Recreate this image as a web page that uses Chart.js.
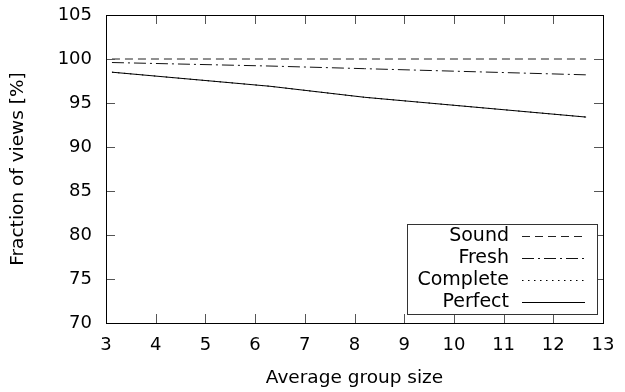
<!DOCTYPE html>
<html>
<head>
<meta charset="utf-8">
<script src="https://cdn.jsdelivr.net/npm/chart.js@4"></script>
<style>
  html, body { margin: 0; padding: 0; background: #fff; }
  #wrap { width: 625px; height: 392px; }
</style>
</head>
<body>
<div id="wrap"><canvas id="viewsChart" width="625" height="392"></canvas></div>
<script>
// group sizes (x) and fraction of views (%)
const groupSizes = [3.12, 6.3, 8.2, 12.66];
const soundValues = [100, 100, 100, 100];
const freshValues = [99.6, 99.2, 98.9, 98.2];
const completeValues = [98.5, 96.9, 95.65, 93.4];
const perfectValues = [98.5, 96.9, 95.65, 93.4];

const xTicks = [3, 4, 5, 6, 7, 8, 9, 10, 11, 12, 13];
const yTicks = [70, 75, 80, 85, 90, 95, 100, 105];

const FONT = "'DejaVu Sans', sans-serif";

function toPoints(values) {
    return values.map((v, i) => ({ x: groupSizes[i], y: v }));
}

// gnuplot style: ticks pointing inward on all four sides
const innerTicks = {
    id: 'innerTicks',
    afterDatasetsDraw(chart) {
        const { ctx, chartArea: a, scales } = chart;
        const len = 9;
        ctx.save();
        ctx.strokeStyle = '#555';
        ctx.lineWidth = 1;
        ctx.beginPath();
        xTicks.forEach(t => {
            if (t === xTicks[0] || t === xTicks[xTicks.length - 1]) return;
            const px = Math.round(scales.x.getPixelForValue(t)) + 0.5;
            ctx.moveTo(px, a.bottom); ctx.lineTo(px, a.bottom - len);
            ctx.moveTo(px, a.top); ctx.lineTo(px, a.top + len);
        });
        yTicks.forEach(t => {
            if (t === yTicks[0] || t === yTicks[yTicks.length - 1]) return;
            const py = Math.round(scales.y.getPixelForValue(t)) + 0.5;
            ctx.moveTo(a.left, py); ctx.lineTo(a.left + len, py);
            ctx.moveTo(a.right, py); ctx.lineTo(a.right - len, py);
        });
        ctx.stroke();
        // frame
        ctx.strokeStyle = '#000';
        ctx.strokeRect(Math.round(a.left) + 0.5, Math.round(a.top) + 0.5,
            Math.round(a.right - a.left), Math.round(a.bottom - a.top));
        ctx.restore();
    }
};

// key box in the lower right corner, text right aligned, sample to the right
const keyBox = {
    id: 'keyBox',
    afterDraw(chart) {
        const { ctx, chartArea: a } = chart;
        const boxL = a.right - 196, boxR = a.right - 6;
        const boxT = a.bottom - 99, boxB = a.bottom - 9;
        ctx.save();
        ctx.fillStyle = '#fff';
        ctx.fillRect(boxL, boxT, boxR - boxL, boxB - boxT);
        ctx.strokeStyle = '#333';
        ctx.lineWidth = 1;
        ctx.strokeRect(boxL + 0.5, boxT + 0.5, boxR - boxL, boxB - boxT);
        ctx.font = '19px ' + FONT;
        ctx.textAlign = 'right';
        ctx.textBaseline = 'middle';
        chart.data.datasets.forEach((ds, i) => {
            const y = boxT + 12 + i * 22;
            ctx.fillStyle = '#000';
            ctx.fillText(ds.label, boxL + 102, y);
            ctx.beginPath();
            ctx.setLineDash(ds.borderDash || []);
            ctx.strokeStyle = ds.borderColor;
            ctx.moveTo(boxL + 115, Math.round(y) + 0.5);
            ctx.lineTo(boxL + 178, Math.round(y) + 0.5);
            ctx.stroke();
        });
        ctx.restore();
    }
};

new Chart(document.getElementById('viewsChart'), {
    type: 'line',
    data: {
        datasets: [
            { label: 'Sound', data: toPoints(soundValues), borderColor: '#222', borderDash: [8, 5] },
            { label: 'Fresh', data: toPoints(freshValues), borderColor: '#111', borderDash: [12, 4, 2, 4] },
            { label: 'Complete', data: toPoints(completeValues), borderColor: '#000', borderDash: [1.5, 4.5] },
            { label: 'Perfect', data: toPoints(perfectValues), borderColor: '#000', borderDash: [] }
        ]
    },
    options: {
        responsive: false,
        animation: false,
        layout: { padding: { top: 15, right: 22, left: 0, bottom: 0 } },
        elements: {
            line: { borderWidth: 1, tension: 0, fill: false },
            point: { radius: 0 }
        },
        plugins: {
            legend: { display: false },
            tooltip: { enabled: false }
        },
        scales: {
            x: {
                type: 'linear',
                min: 3, max: 13,
                afterBuildTicks: s => { s.ticks = xTicks.map(v => ({ value: v })); },
                afterFit: s => { s.height = 69; s.paddingLeft = 0; s.paddingRight = 0; },
                grid: { drawOnChartArea: false, drawTicks: false },
                border: { display: false },
                ticks: { color: '#000', padding: 12, font: { family: FONT, size: 18 }, maxRotation: 0 },
                title: { display: true, text: 'Average group size', color: '#000',
                    font: { family: FONT, size: 18.5 }, padding: { top: 0, bottom: 3 } }
            },
            y: {
                min: 70, max: 105,
                afterBuildTicks: s => { s.ticks = yTicks.map(v => ({ value: v })); },
                afterFit: s => { s.width = 106; s.paddingTop = 0; s.paddingBottom = 0; },
                grid: { drawOnChartArea: false, drawTicks: false },
                border: { display: false },
                ticks: { color: '#000', padding: 14, font: { family: FONT, size: 18 } },
                title: { display: true, text: 'Fraction of views [%]', color: '#000',
                    font: { family: FONT, size: 18.5 }, padding: { top: 7, bottom: 0 } }
            }
        }
    },
    plugins: [innerTicks, keyBox]
});
</script>
</body>
</html>
